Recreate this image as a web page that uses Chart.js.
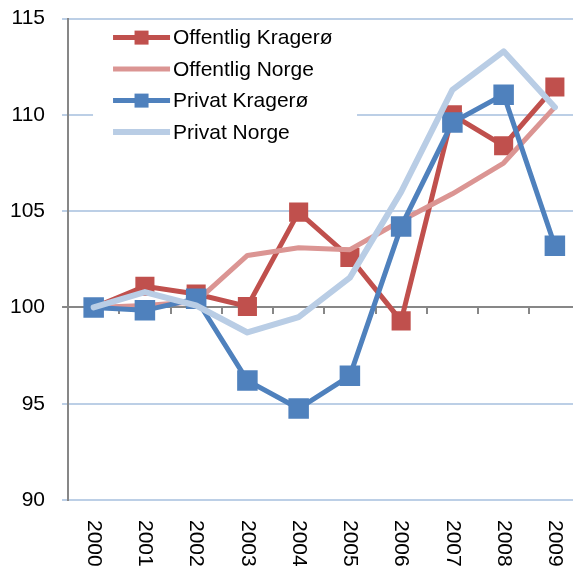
<!DOCTYPE html>
<html>
<head>
    <meta charset="UTF-8"/>
    <title>Kragerø - indeks 2000-2009</title>
    <script src="https://cdn.jsdelivr.net/npm/chart.js@4/dist/chart.umd.min.js"></script>
    <style>
        html, body { margin: 0; padding: 0; background: #fff; overflow: hidden; }
        #wrap { position: relative; width: 614px; height: 579px; margin-left: -19px; margin-top: -11px; }
    </style>
</head>
<body>
<div id="wrap">
    <canvas id="grafIndeks"></canvas>
</div>
<script type="text/javascript">
    var years = ["2000", "2001", "2002", "2003", "2004", "2005", "2006", "2007", "2008", "2009"];

    var offentligKragero = [100, 101.1, 100.7, 100.05, 104.95, 102.6, 99.3, 110.0, 108.4, 111.45];
    var offentligNorge = [100, 100.1, 100.3, 102.7, 103.1, 103.0, 104.5, 105.9, 107.5, 110.4];
    var privatKragero = [100, 99.85, 100.45, 96.2, 94.75, 96.45, 104.2, 109.6, 111.05, 103.2];
    var privatNorge = [100, 100.8, 100.1, 98.7, 99.5, 101.55, 106.0, 111.3, 113.3, 110.4];

    var yMin = 90, yMax = 115, yStep = 5;

    var FONT = '"Liberation Sans", Arial, sans-serif';
    var GRID_BLUE = '#bccfe6';
    var AXIS_GREY = '#878787';

    // year labels at the bottom, rotated clockwise like the original
    var yearLabels = {
        id: 'yearLabels',
        afterDraw: function (chart) {
            var ctx = chart.ctx;
            var xs = chart.scales.x;
            ctx.save();
            ctx.font = '21px ' + FONT;
            ctx.fillStyle = '#000';
            ctx.textAlign = 'left';
            ctx.textBaseline = 'middle';
            for (var i = 0; i < years.length; i++) {
                ctx.save();
                ctx.translate(xs.getPixelForValue(i), chart.chartArea.bottom + 20);
                ctx.rotate(Math.PI / 2);
                ctx.fillText(years[i], 0, 0);
                ctx.restore();
            }
            ctx.restore();
        }
    };

    // legend box in the upper left of the plot, white behind it
    var boxLegend = {
        id: 'boxLegend',
        afterDraw: function (chart) {
            var ctx = chart.ctx;
            var left = chart.chartArea.left + 25;
            var top = chart.chartArea.top + 5;
            ctx.save();
            ctx.fillStyle = '#fff';
            ctx.fillRect(left, top, 264, 124);
            ctx.font = '21px ' + FONT;
            ctx.textAlign = 'left';
            ctx.textBaseline = 'middle';
            chart.data.datasets.forEach(function (ds, i) {
                var y = top + 14 + i * 31.5;
                var x0 = left + 20, x1 = left + 77;
                ctx.strokeStyle = ds.borderColor;
                ctx.lineWidth = ds.borderWidth;
                ctx.lineCap = 'butt';
                ctx.beginPath();
                ctx.moveTo(x0, y);
                ctx.lineTo(x1, y);
                ctx.stroke();
                if (ds.pointRadius > 0) {
                    ctx.fillStyle = ds.borderColor;
                    ctx.fillRect((x0 + x1) / 2 - 7, y - 7, 14, 14);
                }
                ctx.fillStyle = '#000';
                ctx.fillText(ds.label, x1 + 3, y + 1);
            });
            ctx.restore();
        }
    };

    var ctx = document.getElementById("grafIndeks");
    var myChart = new Chart(ctx, {
        type: 'line',
        data: {
            labels: years,
            datasets: [
                {
                    label: "Offentlig Kragerø",
                    data: offentligKragero,
                    borderColor: "#c0504d",
                    backgroundColor: "#c0504d",
                    borderWidth: 5,
                    pointStyle: 'rect',
                    pointRadius: 13.5,
                    pointBorderWidth: 0,
                    order: 4
                },
                {
                    label: "Offentlig Norge",
                    data: offentligNorge,
                    borderColor: "#db9593",
                    backgroundColor: "#db9593",
                    borderWidth: 5,
                    borderJoinStyle: 'round',
                    borderCapStyle: 'round',
                    pointRadius: 0,
                    order: 3
                },
                {
                    label: "Privat Kragerø",
                    data: privatKragero,
                    borderColor: "#4f81bd",
                    backgroundColor: "#4f81bd",
                    borderWidth: 5,
                    pointStyle: 'rect',
                    pointRadius: 14.5,
                    pointBorderWidth: 0,
                    order: 2
                },
                {
                    label: "Privat Norge",
                    data: privatNorge,
                    borderColor: "#b9cde5",
                    backgroundColor: "#b9cde5",
                    borderWidth: 6,
                    borderJoinStyle: 'round',
                    borderCapStyle: 'round',
                    pointRadius: 0,
                    order: 1
                }
            ]
        },
        options: {
            responsive: true,
            maintainAspectRatio: false,
            animation: false,
            layout: { padding: { top: 7, left: 12, right: 0, bottom: 68 } },
            plugins: {
                legend: { display: false },
                tooltip: { enabled: false }
            },
            scales: {
                x: {
                    type: 'category',
                    position: { y: 100 },
                    offset: true,
                    ticks: { display: false },
                    grid: {
                        offset: true,
                        drawOnChartArea: false,
                        tickLength: 6,
                        color: AXIS_GREY,
                        lineWidth: 2
                    },
                    border: { color: AXIS_GREY, width: 2 }
                },
                y: {
                    min: yMin,
                    max: yMax,
                    ticks: {
                        stepSize: yStep,
                        padding: 17,
                        color: '#000',
                        font: { family: FONT, size: 21 }
                    },
                    grid: {
                        tickLength: 6,
                        lineWidth: 2,
                        color: function (c) {
                            return c.tick && c.tick.value === 100 ? AXIS_GREY : GRID_BLUE;
                        }
                    },
                    border: { color: AXIS_GREY, width: 2 }
                }
            }
        },
        plugins: [yearLabels, boxLegend]
    });
</script>
</body>
</html>
